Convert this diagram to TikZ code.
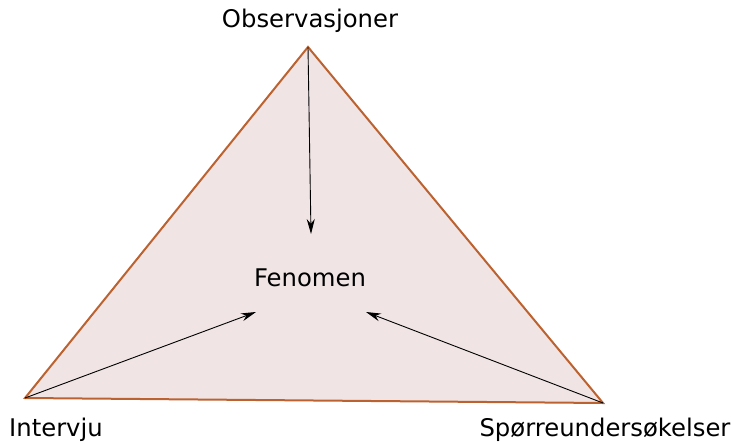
\documentclass[tikz,border=0pt]{standalone}
\usepackage{fontspec}
\setmainfont{DejaVu Sans}
\usetikzlibrary{arrows.meta}
\definecolor{triline}{RGB}{188,98,48}
\definecolor{trifill}{RGB}{240,228,228}
\tikzset{
  etikett/.style={font=\fontsize{24.3}{28}\selectfont, inner sep=0pt, anchor=center},
  pil/.style={-{Stealth[length=15pt, width=8pt]}, line width=0.9pt, black},
}
\begin{document}
\begin{tikzpicture}[x=1pt, y=-1pt]
  \useasboundingbox (0,0) rectangle (733,444);
  % Hjørner
  \coordinate (topp) at (308,47);
  \coordinate (venstre) at (25,398);
  \coordinate (hoyre) at (603,403);
  \filldraw[fill=trifill, draw=triline, line width=2pt, line join=miter] (topp) -- (venstre) -- (hoyre) -- cycle;
  % Tekster
  \node[etikett] (obs) at (310,21) {Observasjoner};
  \node[etikett] (fen) at (310,278) {Fenomen};
  \node[etikett] (int) at (56,430) {Intervju};
  \node[etikett] (spo) at (605,430) {Spørreundersøkelser};
  % Pilspisser
  \coordinate (fentopp) at (311,234);
  \coordinate (fenvenstre) at (256,312);
  \coordinate (fenhoyre) at (366,312);
  \draw[pil] (topp) -- (fentopp);
  \draw[pil] (venstre) -- (fenvenstre);
  \draw[pil] (hoyre) -- (fenhoyre);
\end{tikzpicture}
\end{document}
